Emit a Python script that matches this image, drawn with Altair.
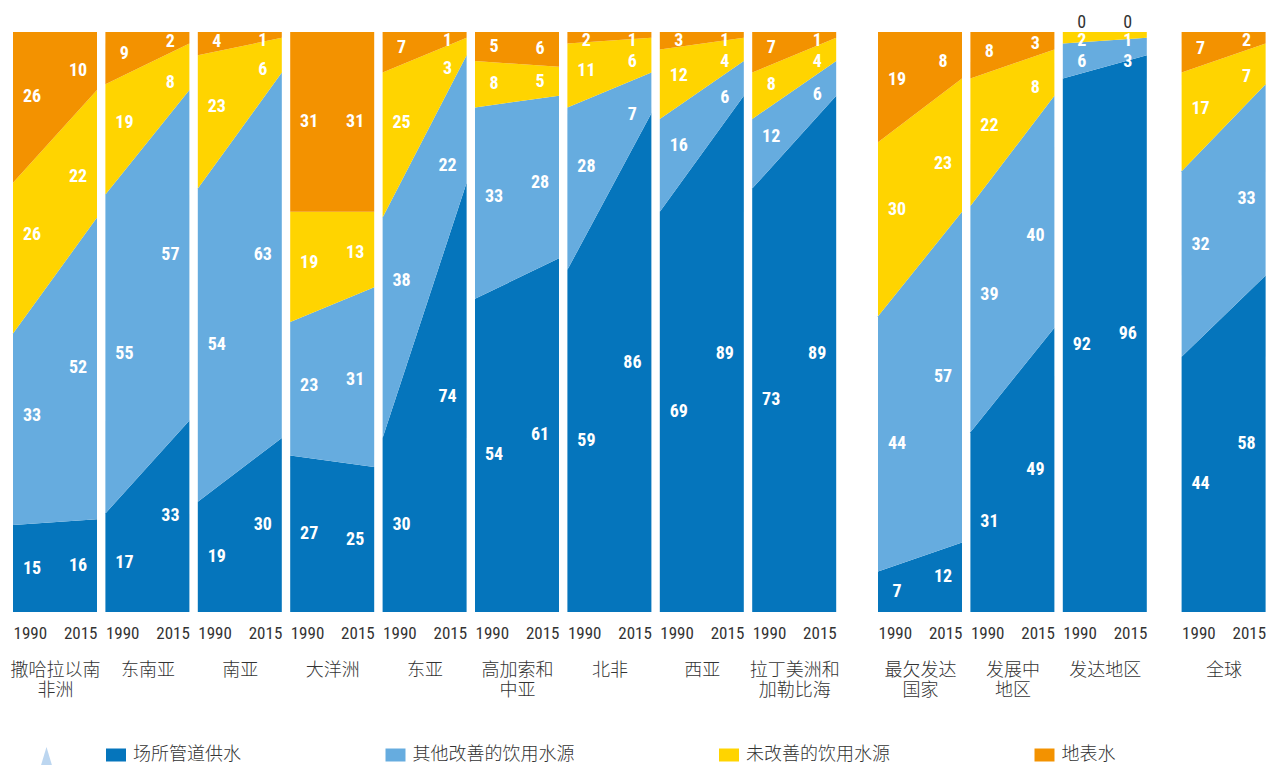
import altair as alt
import pandas as pd

regions = [["撒哈拉以南", "非洲"], ["东南亚"], ["南亚"], ["大洋洲"], ["东亚"], ["高加索和", "中亚"],
           ["北非"], ["西亚"], ["拉丁美洲和", "加勒比海"], ["最欠发达", "国家"], ["发展中", "地区"],
           ["发达地区"], ["全球"]]
region_groups = [9, 3, 1]
group_gaps = [24.4, 18]
years = [1990, 2015]
categories = ["场所管道供水", "其他改善的饮用水源", "未改善的饮用水源", "地表水"]
colors = ["#0575bc", "#66acdf", "#ffd400", "#f39200"]

piped_1990 = [15, 17, 19, 27, 30, 54, 59, 69, 73, 7, 31, 92, 44]
piped_2015 = [16, 33, 30, 25, 74, 61, 86, 89, 89, 12, 49, 96, 58]
other_1990 = [33, 55, 54, 23, 38, 33, 28, 16, 12, 44, 39, 6, 32]
other_2015 = [52, 57, 63, 31, 22, 28, 7, 6, 6, 57, 40, 3, 33]
unimproved_1990 = [26, 19, 23, 19, 25, 8, 11, 12, 8, 30, 22, 2, 17]
unimproved_2015 = [22, 8, 6, 13, 3, 5, 6, 4, 4, 23, 8, 1, 7]
surface_1990 = [26, 9, 4, 31, 7, 5, 2, 3, 7, 19, 8, 0, 7]
surface_2015 = [10, 2, 1, 31, 1, 6, 1, 1, 1, 8, 3, 0, 2]

series = [(piped_1990, piped_2015), (other_1990, other_2015),
          (unimproved_1990, unimproved_2015), (surface_1990, surface_2015)]

CJK = "Noto Sans CJK SC"
NARROW = "Roboto Condensed"
INK = "#333333"
SWATCH = "M-1,-0.65H1V0.65H-1Z"
DROP = "M0,-1L0.6,1L-0.6,1Z"
LABEL_FRACTION = [0.226, 0.774]   # where the value labels sit across a panel
LABEL_TOP = 98.4
LABEL_GAP = 3.5
LABEL_ROOM = 20


def rows_for(i):
    """One row per year and category. A label sits at its band's middle, unless the sloping band
    leaves too little room around that spot: then it follows the band at the label's own place."""
    rows = []
    for yi, year in enumerate(years):
        f = LABEL_FRACTION[yi]
        base = base_a = base_b = 0
        cols = []
        for c, cat in enumerate(categories):
            va, vb = series[c][0][i], series[c][1][i]
            v = series[c][yi][i]
            low = base_a + (base_b - base_a) * f
            base_a += va
            base_b += vb
            high = base_a + (base_b - base_a) * f
            mid = base + v / 2
            room = min(mid - low, high - mid)
            if c > 0 and room < LABEL_ROOM:
                mid = (low + high) / 2
            cols.append(dict(year=year, cat=cat, v=v, y0=base, y1=base + v, mid=mid))
            base += v
        ceiling = LABEL_TOP + LABEL_GAP
        for row in reversed(cols):
            if row["v"] > 0:
                row["mid"] = min(row["mid"], ceiling - LABEL_GAP)
                ceiling = row["mid"]
            else:
                row["mid"] = 100
        rows.extend(cols)
    return pd.DataFrame(rows)


def panel(i):
    df = rows_for(i)
    legend = None
    if i == 0:
        legend = alt.Legend(orient="none", legendX=93, legendY=713, direction="horizontal", columns=4,
                            title=None, symbolType=SWATCH, symbolSize=400, symbolStrokeWidth=0,
                            symbolOpacity=1, labelFont=CJK, labelFontSize=18, labelFontWeight=300,
                            labelColor=INK, labelLimit=400, columnPadding=144.5, labelOffset=7,
                            gridAlign="none")
    x = alt.X("year:Q", scale=alt.Scale(domain=years, nice=False, zero=False),
              axis=alt.Axis(values=years, format="d", domain=False, ticks=False, grid=False,
                            labelFlush=True, labelFont=NARROW, labelFontSize=17, labelColor=INK,
                            labelPadding=13, title=regions[i], titleFont=CJK, titleFontSize=18,
                            titleFontWeight=300, titleColor=INK, titlePadding=20,
                            titleLineHeight=20))
    y = alt.Y("y0:Q", scale=alt.Scale(domain=[0, 100], nice=False), axis=None)
    area = alt.Chart(df).mark_area(opacity=1).encode(
        x=x, y=y, y2="y1:Q",
        color=alt.Color("cat:N", sort=categories,
                        scale=alt.Scale(domain=categories, range=colors), legend=legend))
    ymid = alt.Y("mid:Q", scale=alt.Scale(domain=[0, 100], nice=False), axis=None)
    layers = [area]
    for year, dx in zip(years, (19, -19)):
        sub = df[df.year == year]
        layers.append(alt.Chart(sub[sub.v > 0]).mark_text(
            font=NARROW, fontWeight="bold", fontSize=18, color="white", dx=dx, baseline="middle"
        ).encode(x="year:Q", y=ymid, text="v:Q"))
        layers.append(alt.Chart(sub[sub.v == 0]).mark_text(
            font=NARROW, fontSize=18, color=INK, dx=dx, dy=-9, baseline="middle"
        ).encode(x="year:Q", y=ymid, text="v:Q"))
    if i == 0:
        layers.append(alt.Chart(pd.DataFrame({"a": [0]})).mark_point(
            shape=DROP, filled=True, size=324, color="#bcd6f0", opacity=1, strokeWidth=0
        ).encode(x=alt.value(33.5), y=alt.value(724)))
    return alt.layer(*layers).properties(width=84, height=580)


def spacer(w):
    return alt.Chart(pd.DataFrame({"a": [""]})).mark_text().encode(text="a:N").properties(width=w, height=580)


panels = []
start = 0
for g, n in enumerate(region_groups):
    if g:
        panels.append(spacer(group_gaps[g - 1]))
    panels.extend(panel(i) for i in range(start, start + n))
    start += n

chart = alt.hconcat(*panels, spacing=8.4, bounds="flush").resolve_scale(color="independent").properties(
    padding={"left": 2, "top": 6, "right": 0, "bottom": 0}
).configure_view(stroke=None)

chart.save("out.html", embed_options={"renderer": "svg", "actions": False})
